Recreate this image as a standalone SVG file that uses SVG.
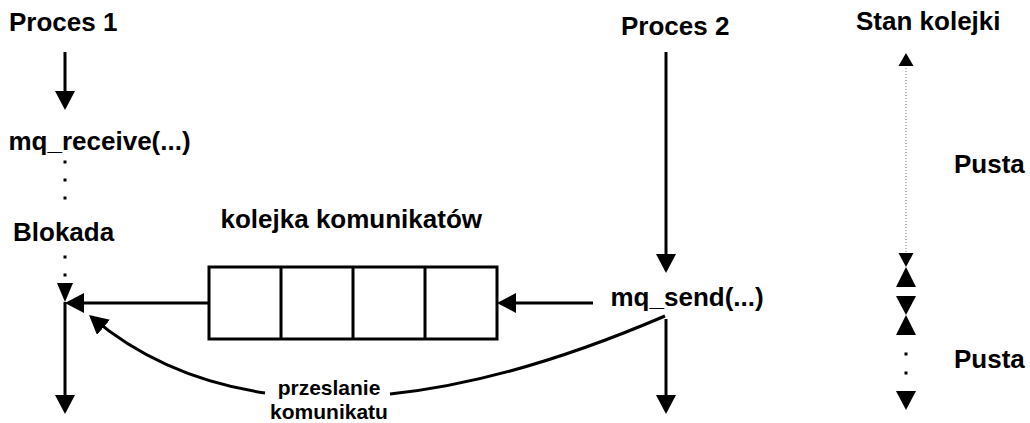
<svg xmlns="http://www.w3.org/2000/svg" width="1030" height="423" viewBox="0 0 1030 423">
<style>
text{font-family:"Liberation Sans",Arial,sans-serif;font-weight:bold;fill:#000}
.lbl{font-size:26px}
.sm{font-size:21px;text-anchor:middle}
.ln{stroke:#000;stroke-width:3;fill:none}
.head{fill:#000;stroke:none}
.dot{fill:#000}
.dotted{stroke:#777;stroke-width:1;stroke-dasharray:1 2;fill:none}
</style>
<defs>
<marker id="ah" viewBox="0 0 20 20" markerWidth="20" markerHeight="20" refX="16" refY="10" markerUnits="userSpaceOnUse" orient="auto">
<path d="M0,0 L19,10 L0,20 z" fill="#000"/>
</marker>
</defs>
<rect width="1030" height="423" fill="#fff"/>

<g id="proces1">
<text class="lbl" x="9" y="31">Proces 1</text>
</g>
<g id="mq_receive">
<text class="lbl" x="8.5" y="150">mq_receive(...)</text>
<rect class="dot" x="63.5" y="160.5" width="3" height="3"/>
<rect class="dot" x="63.5" y="178.5" width="3" height="3"/>
<rect class="dot" x="63.5" y="196.5" width="3" height="3"/>
</g>
<g id="blokada">
<text class="lbl" x="13" y="241">Blokada</text>
<rect class="dot" x="63.5" y="255.5" width="3" height="3"/>
<rect class="dot" x="63.5" y="273.5" width="3" height="3"/>
<polygon class="head" points="57,283 73,283 65,302"/>
</g>
<g id="proces2">
<text class="lbl" x="621" y="35">Proces 2</text>
</g>
<g id="mq_send">
<text class="lbl" x="610.5" y="306">mq_send(...)</text>
</g>
<g id="kolejka">
<text class="lbl" x="220.5" y="228">kolejka komunikatów</text>
<rect class="ln" x="209" y="267" width="288" height="72"/>
<line class="ln" x1="281" y1="267" x2="281" y2="339"/>
<line class="ln" x1="353" y1="267" x2="353" y2="339"/>
<line class="ln" x1="425" y1="267" x2="425" y2="339"/>
</g>
<g id="stan_kolejki">
<text class="lbl" x="856" y="30">Stan kolejki</text>
<line class="dotted" x1="906" y1="65" x2="906" y2="254"/>
<polygon class="head" points="906,53 898.5,66 913.5,66"/>
<polygon class="head" points="898.5,253 913.5,253 906,267"/>
<polygon class="head" points="906,267 896,287 916,287"/>
<polygon class="head" points="896,296 916,296 906,315"/>
<polygon class="head" points="906,315 896,335 916,335"/>
<rect class="dot" x="904.5" y="352.5" width="3" height="3"/>
<rect class="dot" x="904.5" y="371.5" width="3" height="3"/>
<polygon class="head" points="896,391 916,391 906,410"/>
<text class="lbl" x="954" y="173">Pusta</text>
<text class="lbl" x="954" y="368">Pusta</text>
</g>

<g id="connectors">
<line class="ln" x1="65" y1="52" x2="65" y2="107" marker-end="url(#ah)"/>
<line class="ln" x1="666" y1="52" x2="666" y2="270" marker-end="url(#ah)"/>
<line class="ln" x1="209" y1="303" x2="68" y2="303" marker-end="url(#ah)"/>
<line class="ln" x1="593" y1="303" x2="500" y2="303" marker-end="url(#ah)"/>
<line class="ln" x1="65" y1="302" x2="65" y2="411" marker-end="url(#ah)"/>
<line class="ln" x1="666" y1="319" x2="666" y2="411" marker-end="url(#ah)"/>
<path class="ln" d="M665,316 Q512.2,381.6 390,394"/>
<path class="ln" d="M265,393 Q162.7,377.7 91.3,316.9" marker-end="url(#ah)"/>
<text class="sm" x="329" y="395">przeslanie</text>
<text class="sm" x="329" y="419">komunikatu</text>
</g>
</svg>
